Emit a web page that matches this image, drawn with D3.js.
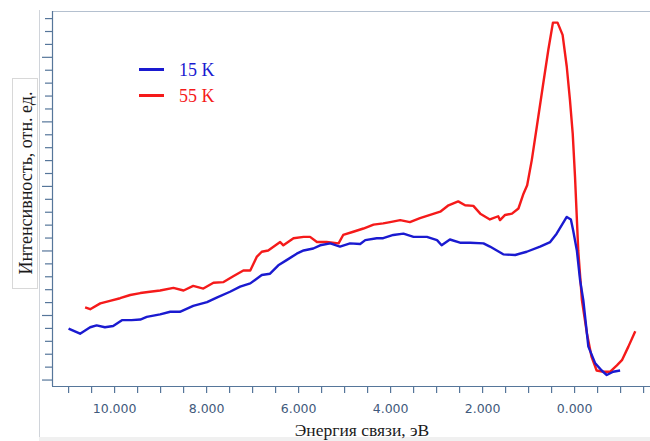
<!DOCTYPE html>
<html><head><meta charset="utf-8">
<script src="https://cdn.jsdelivr.net/npm/d3@7"></script>
<style>body{margin:0;background:#fff;}svg{display:block;}</style>
</head><body><svg id="c" width="650" height="441"></svg>
<script>
// Binding energy (eV) and intensity (arb. units) for each series
const energy15 = [10.99,10.74,10.52,10.38,10.20,10.02,9.83,9.62,9.43,9.29,9.00,8.78,8.57,8.28,7.98,7.77,7.48,7.26,7.04,6.79,6.61,6.43,6.25,6.03,5.88,5.67,5.52,5.30,5.09,4.87,4.65,4.54,4.29,4.15,3.93,3.71,3.49,3.20,2.98,2.88,2.70,2.48,2.26,1.97,1.83,1.54,1.28,1.03,0.74,0.52,0.38,0.16,0.07,0.02,-0.06,-0.13,-0.20,-0.31,-0.46,-0.60,-0.71,-0.85,-1.00];
const intensity15 = [0.79,0.71,0.81,0.84,0.81,0.83,0.92,0.92,0.93,0.97,1.01,1.05,1.05,1.14,1.20,1.27,1.36,1.44,1.49,1.62,1.64,1.77,1.85,1.95,2.00,2.03,2.08,2.11,2.06,2.11,2.10,2.16,2.19,2.19,2.24,2.26,2.21,2.21,2.16,2.08,2.17,2.12,2.12,2.11,2.06,1.94,1.93,1.98,2.06,2.13,2.26,2.52,2.48,2.31,2.00,1.54,1.23,0.51,0.25,0.14,0.07,0.12,0.14];
const energy55 = [10.63,10.52,10.30,10.09,9.87,9.65,9.43,9.22,9.00,8.71,8.49,8.28,8.06,7.84,7.62,7.41,7.19,7.04,6.90,6.79,6.65,6.39,6.32,6.10,5.88,5.74,5.59,5.38,5.12,5.02,4.80,4.58,4.36,4.15,4.00,3.78,3.57,3.35,3.13,2.91,2.73,2.52,2.37,2.19,2.04,1.83,1.65,1.61,1.50,1.35,1.21,1.10,1.02,0.92,0.81,0.67,0.56,0.46,0.36,0.25,0.16,0.09,0.03,-0.02,-0.09,-0.17,-0.28,-0.38,-0.49,-0.64,-0.78,-0.93,-1.04,-1.18,-1.33];
const intensity55 = [1.12,1.09,1.18,1.22,1.26,1.31,1.34,1.36,1.38,1.42,1.38,1.45,1.41,1.50,1.51,1.60,1.69,1.69,1.90,1.98,2.00,2.13,2.08,2.19,2.21,2.21,2.13,2.13,2.11,2.24,2.29,2.34,2.40,2.42,2.44,2.47,2.44,2.50,2.55,2.60,2.70,2.76,2.70,2.69,2.57,2.48,2.53,2.47,2.55,2.57,2.65,2.88,3.01,3.40,3.92,4.59,5.11,5.53,5.53,5.34,4.85,4.33,3.81,3.14,2.00,1.23,0.71,0.35,0.14,0.12,0.12,0.22,0.30,0.51,0.75];
const seriesNames = ["15 K","55 K"];
const seriesColors = ["#1a1ad0","#f51a1a"];
const xTickValues = [11,10.5,10,9.5,9,8.5,8,7.5,7,6.5,6,5.5,5,4.5,4,3.5,3,2.5,2,1.5,1,0.5,0,-0.5,-1,-1.5];
const xLabelValues = [10,8,6,4,2,0];
const yTickValues = d3.range(0,29).map(i=>+(i*0.2).toFixed(1));
const xTitle = "Энергия связи, эВ";
const yTitle = "Интенсивность, отн. ед.";

const svg = d3.select("#c");
const L=52, R=650, T=11, B=386;
const x = d3.scaleLinear().domain([11.35,-1.65]).range([L,R]);
const y = d3.scaleLinear().domain([-0.1,5.71]).range([B,T]);
const axisCol = "#56769a";

// outer decoration lines
svg.append("line").attr("x1",39.5).attr("x2",39.5).attr("y1",10).attr("y2",441).attr("stroke","#d0d4da").attr("stroke-width",1);
svg.append("line").attr("x1",L).attr("x2",R).attr("y1",T+0.5).attr("y2",T+0.5).attr("stroke","#b4c0cf").attr("stroke-width",1.2);

// y axis
const yAxis = d3.axisLeft(y).tickValues(yTickValues).tickFormat("").tickSizeOuter(0)
  .tickSize(7);
const gy = svg.append("g").attr("transform",`translate(${L},0)`).call(yAxis);
gy.selectAll(".tick line").attr("x2", d => Math.abs(d-Math.round(d))<1e-6 ? -10 : -7);
gy.selectAll("line,path").attr("stroke",axisCol).attr("stroke-width",1.2);
gy.select(".domain").attr("d",`M0.5,${T}V${B}`);

// x axis
const xAxis = d3.axisBottom(x).tickValues(xTickValues).tickSizeOuter(0).tickSize(7)
  .tickFormat(d => xLabelValues.includes(d) ? d3.format(".3f")(d) : "");
const gx = svg.append("g").attr("transform",`translate(0,${B})`).call(xAxis);
gx.selectAll("line,path").attr("stroke",axisCol).attr("stroke-width",1.2);
gx.select(".domain").attr("d",`M${L},0.5H${R}`);
gx.selectAll("text").attr("fill","#3f5a7c").attr("font-family","DejaVu Sans, Verdana, sans-serif")
  .attr("font-size",12.5).attr("dy","1.35em");

// lines (red first, blue on top)
const line = d3.line().x(d=>x(d[0])).y(d=>y(d[1]));
const data = [d3.zip(energy15,intensity15), d3.zip(energy55,intensity55)];
[1,0].forEach(i=>{
  svg.append("path").datum(data[i]).attr("d",line).attr("fill","none")
    .attr("stroke",seriesColors[i]).attr("stroke-width",2.4).attr("stroke-linejoin","round");
});

// legend
seriesNames.forEach((n,i)=>{
  const ly = 69.5 + i*26;
  svg.append("line").attr("x1",139).attr("x2",164).attr("y1",ly).attr("y2",ly)
    .attr("stroke",seriesColors[i]).attr("stroke-width",3);
  svg.append("text").attr("x",179).attr("y",ly+6).text(n).attr("fill",seriesColors[i])
    .attr("font-family","Liberation Serif, Times New Roman, serif").attr("font-size",18);
});

// y title box
svg.append("rect").attr("x",12.5).attr("y",78.5).attr("width",25).attr("height",210).attr("fill","#fff")
  .attr("stroke","#d8d8d8").attr("stroke-width",1);
svg.append("text").attr("transform",`translate(32,183) rotate(-90)`).attr("text-anchor","middle")
  .attr("font-family","Liberation Serif, Times New Roman, serif").attr("font-size",18).attr("fill","#1a1a1a")
  .text(yTitle);

// x title
svg.append("rect").attr("x",39).attr("y",437).attr("width",611).attr("height",4).attr("fill","#f0f0f0");
svg.append("text").attr("x",362).attr("y",436).attr("text-anchor","middle")
  .attr("font-family","Liberation Serif, Times New Roman, serif").attr("font-size",17.5).attr("fill","#1a1a1a")
  .text(xTitle);
</script></body></html>
